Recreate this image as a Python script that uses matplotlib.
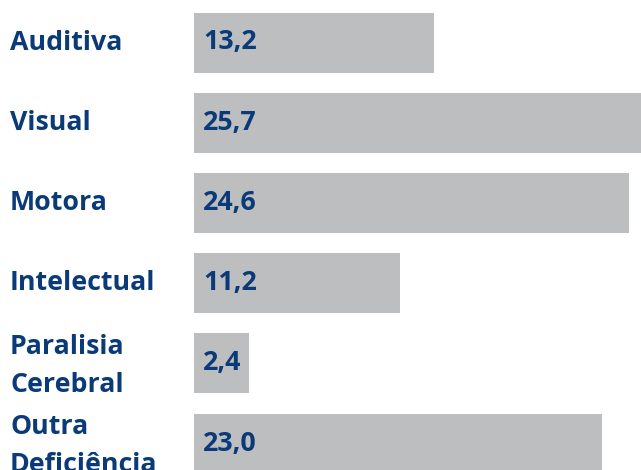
import matplotlib
matplotlib.use("Agg")
import matplotlib.pyplot as plt
from matplotlib.transforms import blended_transform_factory, offset_copy

categories = ["Auditiva", "Visual", "Motora", "Intelectual", "Paralisia\nCerebral", "Outra\nDeficiência"]
values = [13.2, 25.7, 24.6, 11.2, 2.4, 23.0]
value_labels = ["13,2", "25,7", "24,6", "11,2", "2,4", "23,0"]

W, H = 641, 470
fig = plt.figure(figsize=(W / 100, H / 100), dpi=100)
fig.patch.set_facecolor("white")

# axes from pixel 194 to right edge, full height
ax = fig.add_axes([194 / W, 0, 1 - 194 / W, 1])
ax.set_axis_off()

px_per_unit = 17.12
zero_px = 208
pad = (zero_px - 194) / px_per_unit  # bars start a little before zero
ax.set_ylim((H - 42.5) / 80.2, -42.5 / 80.2)

navy = "#0b3a78"
bar_color = "#bdbec0"
ypos = list(range(len(categories)))
ax.barh(ypos, [v + pad for v in values], height=60 / 80.2, color=bar_color, left=-pad)
ax.set_xlim(-pad, (W - zero_px) / px_per_unit)

tr = blended_transform_factory(fig.transFigure, ax.transData)
tr_lab = offset_copy(tr, fig=fig, x=0, y=-2, units="points")
for y, cat, lab in zip(ypos, categories, value_labels):
    fig.text(10 / W, y, cat, transform=tr_lab if "\n" in cat else tr,
             ha="left", va="center",
             fontsize=19.3, fontweight="bold", color=navy,
             family="Open Sans", linespacing=1.58)
    fig.text(203 / W, y, lab, transform=tr, ha="left", va="center",
             fontsize=19.3, fontweight="bold", color=navy,
             family="Open Sans")

fig.savefig("out.png", dpi=100, facecolor="white")
